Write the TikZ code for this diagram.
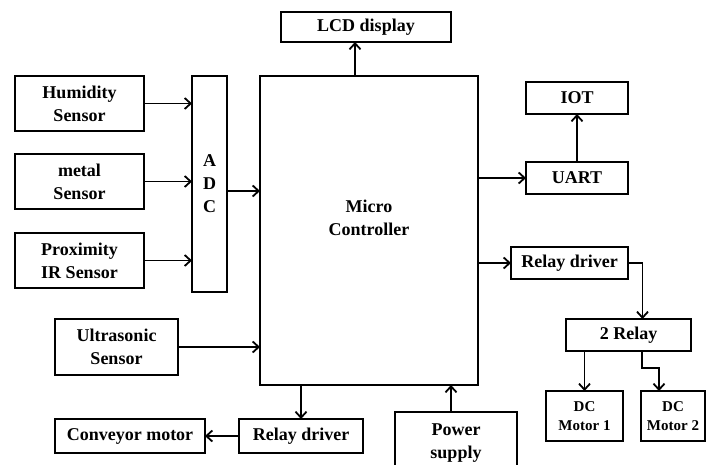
\documentclass[tikz,border=0pt]{standalone}
\usepackage{fontspec}
\setmainfont{Liberation Serif}
\usepackage{tikz}
\usetikzlibrary{arrows.meta,positioning,calc}

\begin{document}
\begin{tikzpicture}[
    x=1pt, y=-1pt,
    blk/.style={draw, line width=2.2pt, inner sep=0pt, outer sep=0pt, align=center, font=\fontsize{18}{23}\selectfont\bfseries},
    small/.style={blk, font=\fontsize{15}{19}\selectfont\bfseries},
    arr/.style={-{Straight Barb[length=6pt, width=11pt, line width=1.8pt]}, line width=1.9pt},
]
    \useasboundingbox (0,0) rectangle (706,465);

    % Controller and display
    \node[blk, minimum width=218pt, minimum height=309pt] (mcu) at (369, 230.5) {};
    \node[font=\fontsize{18}{23}\selectfont\bfseries, align=center] (mcutxt) at (369, 218) {Micro\\Controller};
    \node[blk, minimum width=170pt, minimum height=30pt] (lcd) at (366, 27) {LCD display};

    % Sensors
    \node[blk, minimum width=129pt, minimum height=55pt] (hum) at (79.5, 103.5) {Humidity\\Sensor};
    \node[blk, minimum width=129pt, minimum height=55pt] (metal) at (79.5, 181.5) {metal\\Sensor};
    \node[blk, minimum width=129pt, minimum height=55pt] (prox) at (79.5, 260.5) {Proximity\\IR Sensor};
    \node[blk, minimum width=35pt, minimum height=216pt] (adc) at (209.5, 184) {A\\D\\C};
    \node[blk, minimum width=123pt, minimum height=56pt] (ultra) at (116.5, 347) {Ultrasonic\\Sensor};

    % Conveyor branch
    \node[blk, minimum width=124pt, minimum height=34pt] (rdrvA) at (301, 436) {Relay driver};
    \node[blk, minimum width=150pt, minimum height=34pt] (conv) at (130, 436) {Conveyor motor};
    \node[blk, draw=none, minimum width=122pt, minimum height=62pt] (pwr) at (456, 443) {Power\\supply};
    \draw[line width=2.2pt] (pwr.south west) -- (pwr.north west) -- (pwr.north east) -- (pwr.south east);

    % Output side
    \node[blk, minimum width=102pt, minimum height=32pt] (uart) at (577, 178) {UART};
    \node[blk, minimum width=102pt, minimum height=32pt] (iot) at (577, 98) {IOT};
    \node[blk, minimum width=117pt, minimum height=32pt] (rdrvB) at (569.5, 263) {Relay driver};
    \node[blk, minimum width=125pt, minimum height=32pt] (relay) at (628.5, 335) {2 Relay};
    \node[small, minimum width=77pt, minimum height=50pt] (dcmA) at (584.5, 416) {DC\\Motor 1};
    \node[small, minimum width=64pt, minimum height=50pt] (dcmB) at (673, 416) {DC\\Motor 2};

    % Arrows
    \draw[arr] ([xshift=-14pt]mcu.north) -- ([xshift=-11pt]lcd.south);
    \draw[arr] (hum) -- (hum -| adc.west);
    \draw[arr] (metal) -- (metal -| adc.west);
    \draw[arr] (prox) -- (prox -| adc.west);
    \draw[arr] ([yshift=-7pt]adc.east) -- ([yshift=-7pt]adc.east -| mcu.west);
    \draw[arr] (ultra) -- (ultra -| mcu.west);
    \draw[arr] (rdrvA |- mcu.south) -- (rdrvA);
    \draw[arr] (rdrvA) -- (conv);
    \draw[arr] ([xshift=-5pt]pwr.north) -- ([xshift=-5pt]pwr.north |- mcu.south);
    \draw[arr] (mcu.east |- uart) -- (uart);
    \draw[arr] (uart) -- (iot);
    \draw[arr] (mcu.east |- rdrvB) -- (rdrvB);
    \draw[arr] (rdrvB.east) -| ([xshift=14pt]relay.north);
    \draw[arr] (relay.south -| dcmA) -- (dcmA);
    \draw[arr] ([xshift=13.5pt]relay.south) -- ++(0,17) -| ([xshift=-14pt]dcmB.north);
\end{tikzpicture}
\end{document}
